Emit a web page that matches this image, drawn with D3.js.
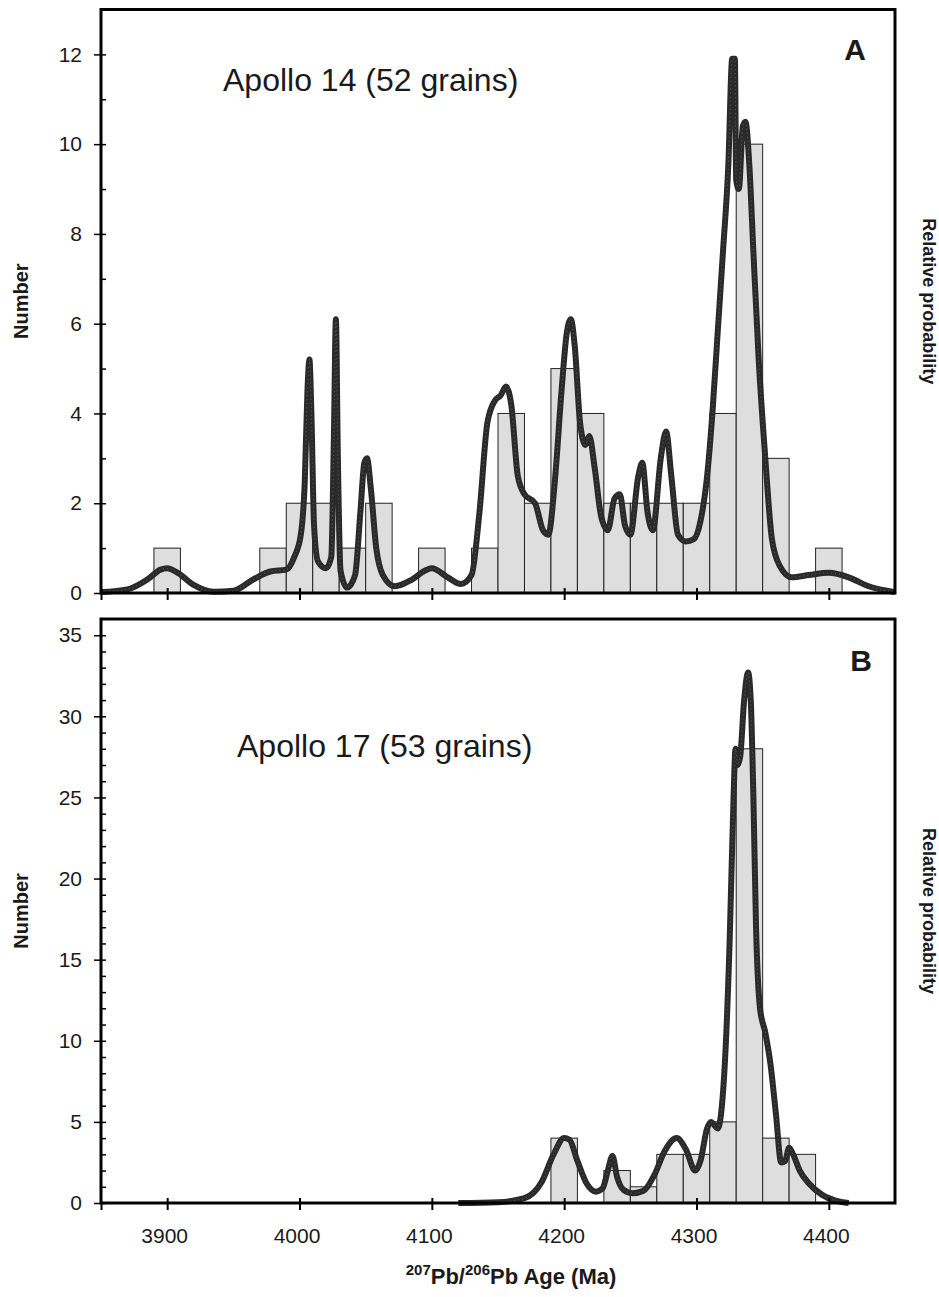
<!DOCTYPE html>
<html>
<head>
<meta charset="utf-8">
<script src="https://cdn.jsdelivr.net/npm/d3@7"></script>
<style>
  body { margin: 0; background: #fff; }
  svg text { font-family: "Liberation Sans", Arial, sans-serif; fill: #1a1a1a; }
</style>
</head>
<body>
<svg id="chart" width="939" height="1297"></svg>
<script>
const AGE_TICKS = [3900, 4000, 4100, 4200, 4300, 4400];
const BIN_WIDTH = 20;

// Apollo 14 histogram (bin centres, counts)
const A_BINS = [3900, 3980, 4000, 4020, 4040, 4060, 4100, 4140, 4160, 4180, 4200, 4220, 4240, 4260, 4280, 4300, 4320, 4340, 4360, 4400];
const A_COUNTS = [1, 1, 2, 2, 1, 2, 1, 1, 4, 2, 5, 4, 2, 2, 2, 2, 4, 10, 3, 1];

// Apollo 14 relative probability curve
const A_CURVE_AGE = [3850, 3870, 3885, 3895, 3900, 3908, 3920, 3935, 3950, 3965, 3978, 3990, 3996, 4001, 4004, 4006, 4007.5, 4009, 4011, 4014, 4020, 4024, 4026, 4027.5, 4029, 4031, 4036, 4042, 4046, 4049, 4051, 4054, 4058, 4063, 4072, 4085, 4095, 4100, 4112, 4122, 4130, 4136, 4142, 4148, 4152, 4156, 4160, 4165, 4170, 4178, 4184, 4188, 4193, 4198, 4202, 4205, 4208, 4212, 4216, 4219, 4223, 4228, 4233, 4238, 4242, 4246, 4250, 4256, 4259, 4263, 4267, 4273, 4277, 4281, 4286, 4292, 4298, 4303, 4308, 4312, 4316, 4320, 4324, 4327, 4329, 4330, 4332, 4335, 4337, 4340, 4343, 4347, 4352, 4357, 4363, 4372, 4385, 4400, 4415, 4430, 4450];
const A_CURVE_VAL = [0.02, 0.08, 0.3, 0.52, 0.55, 0.45, 0.18, 0.03, 0.05, 0.3, 0.48, 0.52, 0.8, 1.3, 2.5, 4.5, 5.2, 4.0, 1.5, 0.7, 0.55, 0.8, 3.5, 6.1, 3.0, 0.5, 0.12, 0.4, 1.8, 2.9, 3.0, 2.3, 1.0, 0.4, 0.15, 0.3, 0.5, 0.55, 0.35, 0.2, 0.4, 1.8, 3.8, 4.3, 4.4, 4.6, 4.2, 2.6, 2.2, 2.0, 1.4, 1.3, 2.5, 4.5, 5.8, 6.1, 5.5, 3.8, 3.3, 3.5, 2.8, 1.7, 1.4, 2.1, 2.2, 1.5, 1.3, 2.6, 2.9, 1.8, 1.4, 3.0, 3.6, 2.6, 1.3, 1.15, 1.2, 1.6, 2.6, 4.0, 5.8, 7.6, 9.5, 11.9, 11.9, 9.2, 9.0, 10.4, 10.5, 9.5, 7.6, 5.2, 3.0, 1.2, 0.6, 0.35, 0.4, 0.45, 0.35, 0.15, 0.02];

// Apollo 17 histogram
const B_BINS = [4200, 4240, 4260, 4280, 4300, 4320, 4340, 4360, 4380];
const B_COUNTS = [4, 2, 1, 3, 3, 5, 28, 4, 3];

// Apollo 17 relative probability curve
const B_CURVE_AGE = [4120, 4150, 4170, 4183, 4192, 4200, 4204, 4210, 4217, 4224, 4229, 4233, 4236.5, 4240, 4245, 4252, 4260, 4268, 4276, 4285, 4292, 4299, 4303, 4308, 4311, 4316, 4321, 4325, 4328, 4329.5, 4331, 4333, 4336, 4339, 4341, 4343, 4345, 4348, 4352, 4356, 4360, 4364, 4367, 4370, 4373, 4378, 4385, 4395, 4405, 4415];
const B_CURVE_VAL = [0, 0.05, 0.3, 1.3, 3.0, 4.0, 3.9, 2.6, 1.2, 0.7, 0.9, 2.0, 2.9, 1.6, 0.8, 0.6, 0.75, 1.7, 3.2, 4.0, 3.3, 2.0, 2.6, 4.6, 5.0, 4.6, 8, 16, 25, 28, 27, 27.5, 31, 32.7, 31, 25, 17, 12, 10.5, 8.5, 5.5, 2.5, 2.6, 3.4, 3.0, 2.0, 1.2, 0.5, 0.15, 0];

const LEFT = 101, RIGHT = 895;
const svg = d3.select('#chart');
const x = d3.scaleLinear().domain([3850, 4450]).range([LEFT, RIGHT]);

function panel(cfg) {
  const y = d3.scaleLinear().domain([0, cfg.ymax]).range([cfg.bottom, cfg.top]);
  const g = svg.append('g');

  // bars
  g.selectAll('rect.bar').data(cfg.bins.map((c, i) => ({ c, n: cfg.counts[i] })))
    .join('rect').attr('class', 'bar')
    .attr('x', d => x(d.c - BIN_WIDTH / 2))
    .attr('width', d => x(d.c + BIN_WIDTH / 2) - x(d.c - BIN_WIDTH / 2))
    .attr('y', d => y(d.n))
    .attr('height', d => y(0) - y(d.n))
    .attr('fill', '#dedede').attr('stroke', '#222').attr('stroke-width', 1);

  // probability curve
  const pts = cfg.ages.map((a, i) => [a, cfg.vals[i]]);
  const line = d3.line().x(d => x(d[0])).y(d => y(d[1])).curve(d3.curveMonotoneX);
  g.append('path').attr('d', line(pts)).attr('fill', 'none')
    .attr('stroke', '#2a2a2a').attr('stroke-width', 6).attr('stroke-linejoin', 'round');
  g.append('path').attr('d', line(pts)).attr('fill', 'none')
    .attr('stroke', '#8a8a8a').attr('stroke-width', 1).attr('stroke-dasharray', '1 3').attr('opacity', 0.6);

  // frame
  g.append('rect').attr('x', LEFT).attr('y', cfg.top).attr('width', RIGHT - LEFT).attr('height', cfg.bottom - cfg.top)
    .attr('fill', 'none').attr('stroke', '#000').attr('stroke-width', 3);

  // y axis: major ticks outward, minor ticks inward
  const yMajor = g.append('g').attr('transform', `translate(${LEFT},0)`)
    .call(d3.axisLeft(y).tickValues(cfg.yticks).tickSize(7).tickPadding(12));
  const yMinor = g.append('g').attr('transform', `translate(${LEFT},0)`)
    .call(d3.axisRight(y).tickValues(d3.range(0, cfg.ymax, cfg.minor)).tickSize(5).tickFormat(''));
  [yMajor, yMinor].forEach(a => {
    a.select('.domain').remove();
    a.selectAll('line').attr('stroke', '#000').attr('stroke-width', 1.5);
  });
  yMajor.selectAll('text').style('font-size', '21px').attr('fill', '#1a1a1a');

  // x axis: ticks cross the axis line
  const xa = g.append('g').attr('transform', `translate(0,${cfg.bottom})`)
    .call(d3.axisBottom(x).tickValues([3850].concat(AGE_TICKS)).tickSize(7).tickPadding(18)
      .tickFormat(d => cfg.xlabels && d !== 3850 ? d : ''));
  xa.select('.domain').remove();
  xa.selectAll('line').attr('y1', d => d === 3850 ? 0 : -5).attr('stroke', '#000').attr('stroke-width', 2);
  xa.selectAll('text').attr('dx', -3).style('font-size', '21px').attr('fill', '#1a1a1a');

  // labels
  g.append('text').attr('x', cfg.titleX).attr('y', cfg.titleY)
    .style('font-size', '32px').text(cfg.title);
  g.append('text').attr('x', cfg.letterX).attr('y', cfg.letterY).attr('text-anchor', 'end')
    .style('font-size', '30px').style('font-weight', 'bold').attr('fill', '#000').text(cfg.letter);

  const mid = (cfg.top + cfg.bottom) / 2;
  g.append('text').attr('transform', `translate(28,${mid}) rotate(-90)`).attr('text-anchor', 'middle')
    .style('font-size', '20px').style('font-weight', 'bold').text('Number');
  g.append('text').attr('transform', `translate(923,${mid}) rotate(90)`).attr('text-anchor', 'middle')
    .style('font-size', '18px').style('font-weight', 'bold').text('Relative probability');
}

panel({
  top: 9.5, bottom: 593, ymax: 13, yticks: [0, 2, 4, 6, 8, 10, 12], minor: 1,
  bins: A_BINS, counts: A_COUNTS, ages: A_CURVE_AGE, vals: A_CURVE_VAL,
  title: 'Apollo 14 (52 grains)', titleX: 223, titleY: 91,
  letter: 'A', letterX: 866, letterY: 60, xlabels: false
});

panel({
  top: 619, bottom: 1203, ymax: 36, yticks: [0, 5, 10, 15, 20, 25, 30, 35], minor: 1,
  bins: B_BINS, counts: B_COUNTS, ages: B_CURVE_AGE, vals: B_CURVE_VAL,
  title: 'Apollo 17 (53 grains)', titleX: 237, titleY: 757,
  letter: 'B', letterX: 872, letterY: 671, xlabels: true
});

// x axis title with superscripts
const xt = svg.append('text').attr('x', 511).attr('y', 1284).attr('text-anchor', 'middle')
  .style('font-size', '22px').style('font-weight', 'bold');
xt.append('tspan').attr('dy', -9).style('font-size', '15px').text('207');
xt.append('tspan').attr('dy', 9).text('Pb/');
xt.append('tspan').attr('dy', -9).style('font-size', '15px').text('206');
xt.append('tspan').attr('dy', 9).text('Pb Age (Ma)');
</script>
</body>
</html>
